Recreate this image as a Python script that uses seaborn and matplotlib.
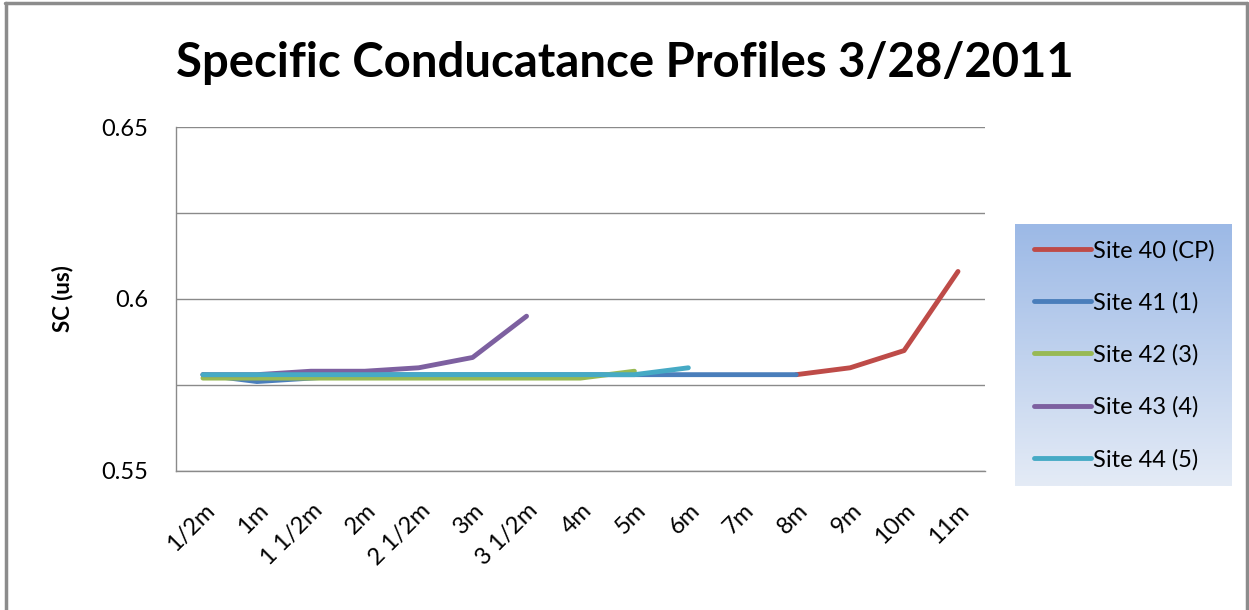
import numpy as np
import pandas as pd
import matplotlib.pyplot as plt
import matplotlib.transforms as mtransforms
import seaborn as sns
from matplotlib.lines import Line2D
from matplotlib.colors import LinearSegmentedColormap

depths = ['1/2m', '1m', '1 1/2m', '2m', '2 1/2m', '3m', '3 1/2m', '4m',
          '5m', '6m', '7m', '8m', '9m', '10m', '11m']
nan = np.nan

site_40 = [nan, nan, nan, nan, nan, nan, nan, nan, nan, nan, nan, 0.578, 0.580, 0.585, 0.608]
site_41 = [0.578, 0.576, 0.577, 0.578, 0.578, 0.578, 0.578, 0.578, 0.578, 0.578, 0.578, 0.578, nan, nan, nan]
site_42 = [0.577, 0.577, 0.577, 0.577, 0.577, 0.577, 0.577, 0.577, 0.579, nan, nan, nan, nan, nan, nan]
site_43 = [0.578, 0.578, 0.579, 0.579, 0.580, 0.583, 0.595, nan, nan, nan, nan, nan, nan, nan, nan]
site_44 = [0.578, 0.578, 0.578, 0.578, 0.578, 0.578, 0.578, 0.578, 0.578, 0.580, nan, nan, nan, nan, nan]

sites = ['Site 40 (CP)', 'Site 41 (1)', 'Site 42 (3)', 'Site 43 (4)', 'Site 44 (5)']
colors = ['#be4b48', '#4a7ebb', '#98b954', '#7d60a0', '#46aac5']

frames = []
for name, vals in zip(sites, [site_40, site_41, site_42, site_43, site_44]):
    frames.append(pd.DataFrame({'pos': range(len(depths)), 'sc': vals, 'site': name}))
df = pd.concat(frames).dropna()

sns.set_style('white')
plt.rcParams['font.family'] = ['Lato', 'DejaVu Sans']
plt.rcParams['text.color'] = 'black'
plt.rcParams['axes.labelcolor'] = 'black'
plt.rcParams['xtick.color'] = 'black'
plt.rcParams['ytick.color'] = 'black'

fig = plt.figure(figsize=(12.49, 6.10), dpi=100)
ax = fig.add_axes([0.1409, 0.2279, 0.6477, 0.5639])

sns.lineplot(data=df, x='pos', y='sc', hue='site', hue_order=sites,
             palette=colors, linewidth=3.5, ax=ax, legend=False,
             solid_capstyle='round', solid_joinstyle='round')

ax.set_xlim(-0.5, len(depths) - 0.5)
ax.set_ylim(0.55, 0.65)
ax.set_yticks([0.55, 0.575, 0.6, 0.625, 0.65])
ax.set_yticklabels(['0.55', '', '0.6', '', '0.65'], fontsize=17)
ax.set_xticks(range(len(depths)))
ax.set_xticklabels(depths, rotation=45, ha='right', va='center',
                   rotation_mode='anchor', fontsize=17)
ax.tick_params(axis='y', length=0, pad=20)
ax.tick_params(axis='x', length=0, pad=26)
shift = mtransforms.ScaledTranslation(8 / 100, 0, fig.dpi_scale_trans)
for lbl in ax.get_xticklabels():
    lbl.set_transform(lbl.get_transform() + shift)
ax.grid(axis='y', color='#8a8a8a', linewidth=1)
ax.set_axisbelow(True)
for s in ['top', 'right']:
    ax.spines[s].set_visible(False)
for s in ['left', 'bottom']:
    ax.spines[s].set_color('#8a8a8a')
    ax.spines[s].set_linewidth(1)
ax.set_xlabel('')
ax.set_ylabel('SC (us)', fontsize=16, fontweight='bold', labelpad=20)

fig.text(0.5, 0.897, 'Specific Conducatance Profiles 3/28/2011',
         ha='center', va='center', fontsize=34, fontweight='bold')

# legend box with gradient background
lax = fig.add_axes([1015 / 1249, 1 - 486 / 610, 217 / 1249, 262 / 610])
grad = np.linspace(0, 1, 256).reshape(-1, 1)
cmap = LinearSegmentedColormap.from_list('lg', ['#9cb9e6', '#e4ebf6'])
lax.imshow(grad, aspect='auto', cmap=cmap, extent=[0, 1, 0, 1])
lax.set_axis_off()
handles = [Line2D([0], [0], color=c, linewidth=3.5, solid_capstyle='round') for c in colors]
lax.legend(handles, sites, loc='center left', bbox_to_anchor=(0.035, 0.5),
           frameon=False, fontsize=17, handlelength=2.4, handletextpad=0.1,
           labelspacing=1.3, borderpad=0)

# outer frame of the chart image
for xs, ys in [([0.004, 0.998], [0.995, 0.995]), ([0.005, 0.005], [0.0, 0.995]),
               ([0.998, 0.998], [0.0, 0.995])]:
    fig.add_artist(Line2D(xs, ys, color='#8c8c8c', linewidth=2.5, transform=fig.transFigure))

fig.savefig('out.png', dpi=100)
